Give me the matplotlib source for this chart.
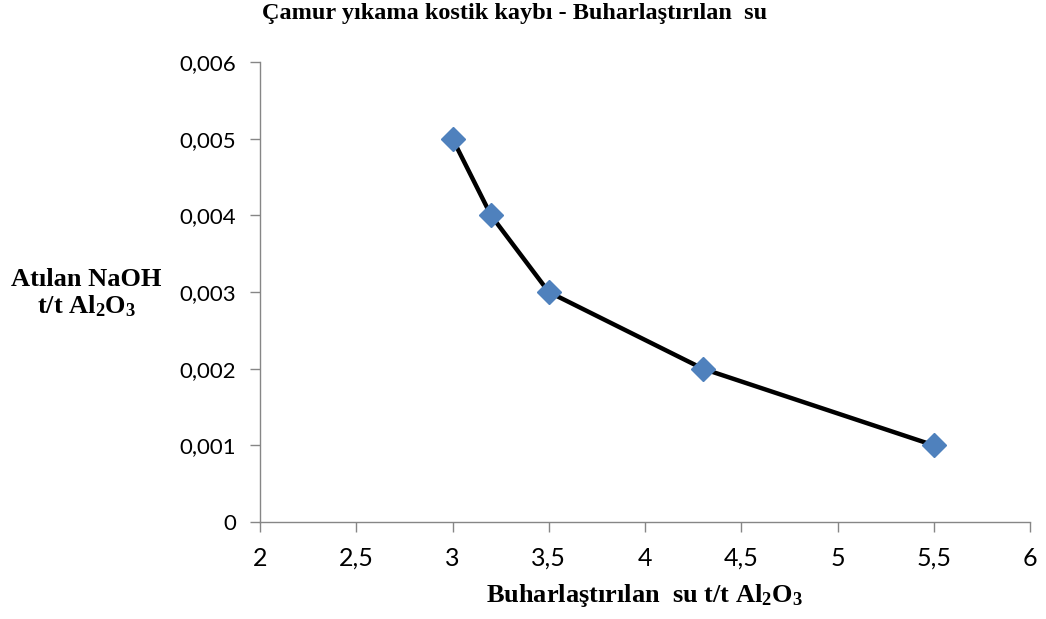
import matplotlib
matplotlib.use("Agg")
import matplotlib.pyplot as plt
from matplotlib.ticker import FuncFormatter, MultipleLocator

plt.rcParams['mathtext.fontset'] = 'custom'
plt.rcParams['mathtext.rm'] = 'Liberation Serif:bold'
plt.rcParams['mathtext.bf'] = 'Liberation Serif:bold'
plt.rcParams['mathtext.it'] = 'Liberation Serif:bold'

x_vals = [3.0, 3.2, 3.5, 4.3, 5.5]
y_vals = [0.005, 0.004, 0.003, 0.002, 0.001]

title = "Çamur yıkama kostik kaybı - Buharlaştırılan  su"
xlabel = r"Buharlaştırılan  su t/t Al$_{2}$O$_{3}$"
ylabel_line1 = "Atılan NaOH"
ylabel_line2 = r"t/t Al$_{2}$O$_{3}$"

W, H = 1046, 619
fig = plt.figure(figsize=(W/100, H/100), dpi=100)
ax = fig.add_axes([260/W, 1-522/H, (1030-260)/W, (522-62)/H])

ax.plot(x_vals, y_vals, color='black', lw=3.2, zorder=2, solid_joinstyle='round')
ax.plot(x_vals, y_vals, linestyle='none', marker='D', markersize=12.5,
        color='#4F81BD', markeredgecolor='#4F81BD', zorder=3)

ax.set_xlim(2, 6)
ax.set_ylim(0, 0.006)
ax.xaxis.set_major_locator(MultipleLocator(0.5))
ax.yaxis.set_major_locator(MultipleLocator(0.001))

def fmt_x(v, p):
    return ('%g' % v).replace('.', ',')
def fmt_y(v, p):
    if abs(v) < 1e-12:
        return '0'
    return ('%.3f' % v).replace('.', ',')
ax.xaxis.set_major_formatter(FuncFormatter(fmt_x))
ax.yaxis.set_major_formatter(FuncFormatter(fmt_y))

for s in ['top', 'right']:
    ax.spines[s].set_visible(False)
for s in ['left', 'bottom']:
    ax.spines[s].set_color('#868686')
    ax.spines[s].set_linewidth(1.0)
ax.tick_params(axis='both', direction='out', length=7, width=1.0, color='#868686',
               labelcolor='#000000')
ax.tick_params(axis='x', pad=11, labelsize=18)
ax.tick_params(axis='y', pad=10, labelsize=16)
for lab in ax.get_xticklabels() + ax.get_yticklabels():
    lab.set_family('Lato')

fig.text(515/W, 1-19/H, title, ha='center', va='baseline',
         family='Liberation Serif', weight='bold', fontsize=17.5)
fig.text(644/W, 1-602/H, xlabel, ha='center', va='baseline',
         family='Liberation Serif', weight='bold', fontsize=19)
fig.text(86/W, 1-286/H, ylabel_line1, ha='center', va='baseline',
         family='Liberation Serif', weight='bold', fontsize=19)
fig.text(87/W, 1-313/H, ylabel_line2, ha='center', va='baseline',
         family='Liberation Serif', weight='bold', fontsize=19)

fig.savefig('out.png', dpi=100)
